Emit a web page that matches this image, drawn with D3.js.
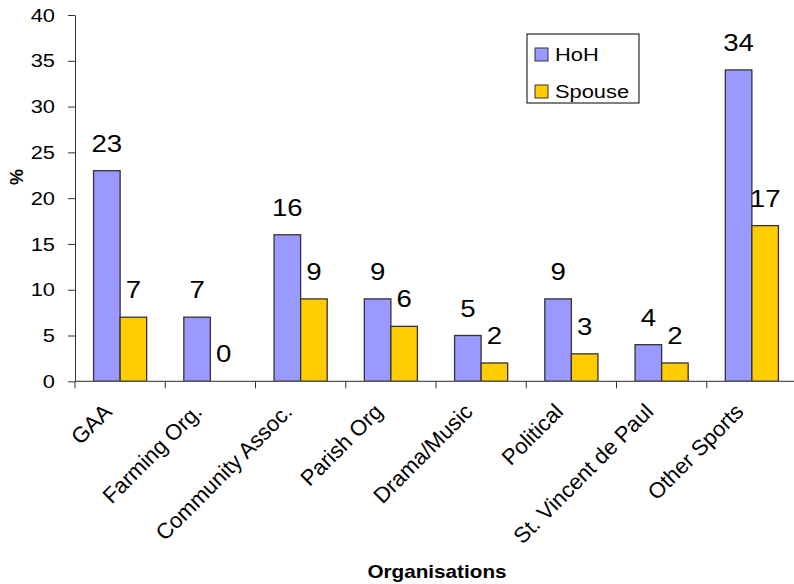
<html lang="en">
<head>
	<title>Organisations</title>
	<script src="https://d3js.org/d3.v7.min.js" charset="utf-8"></script>
	<style>
		body { margin: 0; background: #fff; }
		text { font-family: Arial, "Liberation Sans", sans-serif; }
	</style>
</head>
<body>
<script>
// chart data
var categories = ["GAA", "Farming Org.", "Community Assoc.", "Parish Org", "Drama/Music", "Political", "St. Vincent de Paul", "Other Sports"];
var seriesNames = ["HoH", "Spouse"];
var hohValues = [23, 7, 16, 9, 5, 9, 4, 34];
var spouseValues = [7, 0, 9, 6, 2, 3, 2, 17];
var yTicks = [0, 5, 10, 15, 20, 25, 30, 35, 40];
var colors = ["#9999FF", "#FFCC00"];

var w = 794, h = 584;
// plot edges (note: "top" is a reserved window global, so use other names)
var plotLeft = 75, plotTop = 15, plotBottom = 381.3, plotRight = 797;
var stretch = 1.15; // the original's text is a bit wide

var svg = d3.select("body").append("svg")
	.attr("width", w)
	.attr("height", h);

var y = d3.scaleLinear().domain([0, 40]).range([plotBottom, plotTop]);
var x0 = d3.scaleBand().domain(categories).range([plotLeft, plotRight]);
var x1 = d3.scaleBand().domain(seriesNames).range([0, x0.bandwidth()]).paddingOuter(0.7);

var rows = categories.map(function(c, i) {
	return { cat: c, vals: [
		{ s: "HoH", v: hohValues[i] },
		{ s: "Spouse", v: spouseValues[i] }
	]};
});

// bars
var groups = svg.selectAll("g.cat")
	.data(rows)
	.enter().append("g")
	.attr("class", "cat")
	.attr("transform", function(d) { return "translate(" + x0(d.cat) + ",0)"; });

groups.selectAll("rect")
	.data(function(d) { return d.vals.filter(function(e) { return e.v > 0; }); })
	.enter().append("rect")
	.attr("x", function(d) { return x1(d.s); })
	.attr("y", function(d) { return y(d.v); })
	.attr("width", x1.bandwidth())
	.attr("height", function(d) { return y(0) - y(d.v); })
	.attr("fill", function(d) { return colors[seriesNames.indexOf(d.s)]; })
	.attr("stroke", "#333")
	.attr("stroke-width", 1.3);

// value labels
groups.selectAll("text.val")
	.data(function(d) { return d.vals; })
	.enter().append("text")
	.attr("class", "val")
	.attr("transform", function(d) {
		return "translate(" + (x1(d.s) + x1.bandwidth() / 2) + "," + (y(d.v) - 19) + ") scale(" + stretch + ",1)";
	})
	.attr("text-anchor", "middle")
	.style("font-size", "24px")
	.attr("fill", "#000")
	.text(function(d) { return d.v; });

// y axis
var yAxis = svg.append("g")
	.attr("transform", "translate(" + plotLeft + ",0)")
	.call(d3.axisLeft(y).tickValues(yTicks).tickSize(7).tickSizeOuter(0).tickPadding(6));
yAxis.selectAll("text")
	.attr("x", 0)
	.attr("transform", "translate(-20,0) scale(" + stretch + ",1)")
	.style("font-size", "19px").attr("fill", "#000")
	.style("font-family", "Arial, 'Liberation Sans', sans-serif");
yAxis.selectAll("line").attr("stroke", "#333");
yAxis.select(".domain").attr("stroke", "#333");

// x axis
svg.append("line")
	.attr("x1", plotLeft).attr("x2", w)
	.attr("y1", y(0)).attr("y2", y(0))
	.attr("stroke", "#555").attr("stroke-width", 1.3);

svg.selectAll("line.xtick")
	.data(categories)
	.enter().append("line")
	.attr("class", "xtick")
	.attr("x1", function(d) { return x0(d); })
	.attr("x2", function(d) { return x0(d); })
	.attr("y1", y(0)).attr("y2", y(0) + 7)
	.attr("stroke", "#333");

svg.selectAll("text.cat")
	.data(categories)
	.enter().append("text")
	.attr("class", "cat")
	.attr("text-anchor", "end")
	.attr("transform", function(d) {
		return "translate(" + (x0(d) + x0.bandwidth() / 2 - 7) + "," + 413 + ") rotate(-45)";
	})
	.style("font-size", "22px")
	.text(function(d) { return d; });

// axis titles
svg.append("text")
	.attr("transform", "translate(437,578) scale(" + stretch + ",1)")
	.attr("text-anchor", "middle")
	.style("font-size", "18px").style("font-weight", "bold")
	.text("Organisations");

svg.append("text")
	.attr("transform", "translate(23,177) rotate(-90)")
	.attr("text-anchor", "middle")
	.style("font-size", "18px").style("font-weight", "bold")
	.text("%");

// legend
var legend = svg.append("g");
legend.append("rect")
	.attr("x", 527).attr("y", 34)
	.attr("width", 112).attr("height", 69)
	.attr("fill", "#fff").attr("stroke", "#000").attr("stroke-width", 1);

var items = legend.selectAll("g.item")
	.data(seriesNames)
	.enter().append("g")
	.attr("transform", function(d, i) { return "translate(535," + (48 + i * 37) + ")"; });
items.append("rect")
	.attr("width", 13).attr("height", 13)
	.attr("fill", function(d, i) { return colors[i]; })
	.attr("stroke", "#333");
items.append("text")
	.attr("transform", "translate(20,13) scale(" + stretch + ",1)")
	.style("font-size", "19px")
	.text(function(d) { return d; });
</script>
</body>
</html>
